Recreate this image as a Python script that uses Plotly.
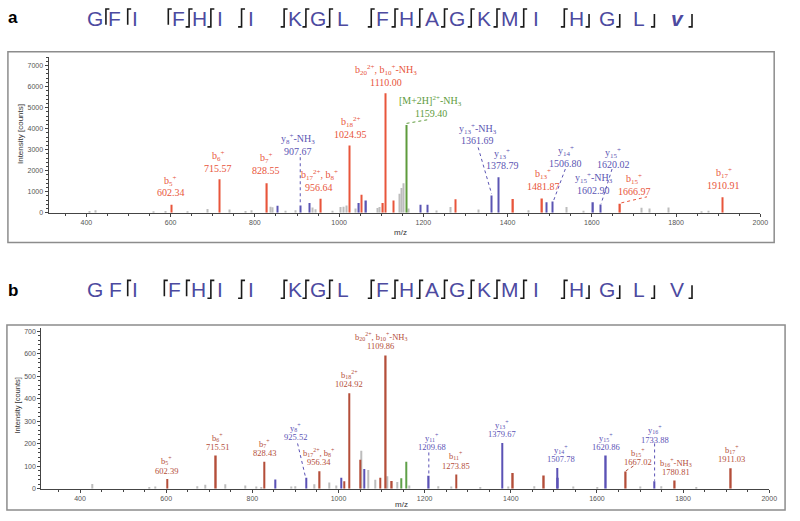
import plotly.graph_objects as go

W, H = 800, 521

# ---------------- DATA : panel a ----------------
a_red_mz = [602.34, 715.57, 828.55, 956.64, 1024.95, 1053, 1104, 1110.00, 1129, 1276, 1413, 1481.87, 1666.97, 1910.91]
a_red_int = [380, 1600, 1400, 670, 3200, 860, 470, 5680, 580, 640, 660, 680, 430, 740]
a_blue_mz = [854, 907.67, 929, 1047, 1064, 1193, 1210, 1361.69, 1378.79, 1493, 1506.80, 1602.90, 1620.02]
a_blue_int = [330, 345, 470, 470, 580, 380, 380, 820, 1690, 500, 540, 500, 390]
a_green_mz = [1159.40]
a_green_int = [4180]
a_gray_mz = [407, 422, 560, 587, 640, 687, 739, 778, 791, 837, 842, 872, 896, 937, 943, 985, 1003,
             1011, 1017, 1038, 1091, 1096, 1143, 1149, 1153, 1165, 1232, 1264, 1330, 1450, 1541,
             1580, 1719, 1736, 1783, 1860, 1877]
a_gray_int = [90, 120, 60, 80, 60, 180, 150, 90, 120, 290, 260, 100, 120, 250, 170, 100, 270,
              290, 340, 200, 230, 280, 900, 1180, 1400, 200, 110, 280, 150, 120, 270,
              100, 240, 200, 250, 60, 100]

a_lab_names = ["b<sub>5</sub><sup>+</sup>", "b<sub>6</sub><sup>+</sup>", "b<sub>7</sub><sup>+</sup>",
               "y<sub>8</sub><sup>+</sup>-NH<sub>3</sub>",
               "b<sub>17</sub><sup>2+</sup>, b<sub>8</sub><sup>+</sup>", "b<sub>18</sub><sup>2+</sup>",
               "b<sub>20</sub><sup>2+</sup>, b<sub>10</sub><sup>+</sup>-NH<sub>3</sub>",
               "[M+2H]<sup>2+</sup>-NH<sub>3</sub>", "y<sub>13</sub><sup>+</sup>-NH<sub>3</sub>",
               "y<sub>13</sub><sup>+</sup>", "b<sub>13</sub><sup>+</sup>", "y<sub>14</sub><sup>+</sup>",
               "y<sub>15</sub><sup>+</sup>-NH<sub>3</sub>", "y<sub>15</sub><sup>+</sup>",
               "b<sub>15</sub><sup>+</sup>", "b<sub>17</sub><sup>+</sup>"]
a_lab_values = ["602.34", "715.57", "828.55", "907.67", "956.64", "1024.95", "1110.00", "1159.40",
                "1361.69", "1378.79", "1481.87", "1506.80", "1602.90", "1620.02", "1666.97", "1910.91"]
a_lab_kind = ["r", "r", "r", "b", "r", "r", "r", "g", "b", "b", "r", "b", "b", "b", "r", "r"]

# ---------------- DATA : panel b ----------------
b_red_mz = [602.39, 715.51, 828.43, 956.34, 1013, 1024.92, 1051, 1097, 1109.86, 1124, 1273.85, 1405, 1477, 1667.02, 1780.81, 1911.03]
b_red_int = [44, 148, 121, 78, 34, 425, 130, 49, 593, 35, 64, 71, 59, 77, 37, 92]
b_blue_mz = [854, 925.52, 1007, 1060, 1209.68, 1379.67, 1507.78, 1509.5, 1620.86, 1733.88]
b_blue_int = [42, 49, 49, 88, 58, 204, 93, 50, 148, 34]
b_green_mz = [1146, 1157]
b_green_int = [47, 121]
b_gray_mz = [429, 560, 575, 672, 690, 738, 784, 809, 820, 890, 900, 945, 978, 995, 1052, 1069, 1085,
             1114, 1137, 1165, 1232, 1262, 1330, 1395, 1455, 1545, 1600, 1700, 1750, 1830]
b_gray_int = [22, 8, 10, 12, 18, 20, 15, 10, 8, 10, 12, 20, 28, 15, 170, 84, 40,
              56, 30, 15, 12, 10, 8, 10, 12, 10, 8, 10, 12, 8]

b_lab_names = ["b<sub>5</sub><sup>+</sup>", "b<sub>6</sub><sup>+</sup>", "b<sub>7</sub><sup>+</sup>",
               "y<sub>8</sub><sup>+</sup>", "b<sub>17</sub><sup>2+</sup>, b<sub>8</sub><sup>+</sup>",
               "b<sub>18</sub><sup>2+</sup>",
               "b<sub>20</sub><sup>2+</sup>, b<sub>10</sub><sup>+</sup>-NH<sub>3</sub>",
               "y<sub>11</sub><sup>+</sup>", "b<sub>11</sub><sup>+</sup>", "y<sub>13</sub><sup>+</sup>",
               "y<sub>14</sub><sup>+</sup>", "y<sub>15</sub><sup>+</sup>", "b<sub>15</sub><sup>+</sup>",
               "y<sub>16</sub><sup>+</sup>", "b<sub>16</sub><sup>+</sup>-NH<sub>3</sub>",
               "b<sub>17</sub><sup>+</sup>"]
b_lab_values = ["602.39", "715.51", "828.43", "925.52", "956.34", "1024.92", "1109.86", "1209.68",
                "1273.85", "1379.67", "1507.78", "1620.86", "1667.02", "1733.88", "1780.81", "1911.03"]
b_lab_kind = ["r", "r", "r", "b", "r", "r", "r", "b", "r", "b", "b", "b", "r", "b", "r", "r"]

# sequences and fragment markers (b = N-term cut, y = C-term cut, by = both, "" = none)
seq_a = list("GFIFHIIKGLFHAGKMIHGLV")
seq_b = list("GFIFHIIKGLFHAGKMIHGLV")
marks_a = ["b", "b", "b", "by", "by", "by", "by", "by", "by", "by", "by", "by", "by", "by", "by",
           "by", "by", "y", "y", "y", "y"]
marks_b = ["", "b", "b", "b", "by", "by", "by", "by", "by", "by", "by", "by", "by", "by", "by",
           "by", "by", "y", "y", "y", "y"]

# ---------------- LAYOUT (positions / styles) ----------------
a_lab_x = [600.4, 713, 826.7, 901.4, 952.6, 1027, 1111, 1217, 1329.6, 1386.8, 1485, 1537.6, 1604.3, 1651.4, 1700.8, 1913]
a_lab_y = [944, 2125, 1997, 2913, 1213, 3730, 6218, 4721, 3414, 2233, 1242, 2361, 1053, 2280, 1025, 1289]
b_lab_x = [601.6, 718.3, 828, 900.7, 954.6, 1025, 1098, 1218, 1272.8, 1379.3, 1516, 1621.9, 1696, 1734.6, 1783.6, 1913]
b_lab_y = [81.4, 184.5, 159, 228.8, 118, 464.6, 634.5, 184.5, 103.5, 243.4, 132.7, 184.5, 118, 218.6, 73.9, 132.7]

# leader lines: (x0, y0, x1, y1, kind)
a_leaders = [(907.67, 2640, 907.67, 360, "b"), (1160, 4250, 1212, 4430, "g"),
             (1330, 3110, 1362, 900, "b"), (1537, 2080, 1509, 570, "b"),
             (1648, 2080, 1622, 430, "b"), (1670, 470, 1731, 760, "r")]
b_leaders = [(905, 202, 923, 56, "b"), (1209.68, 162, 1209.68, 60, "b"),
             (1667, 80, 1690, 108, "r"), (1733.88, 202, 1733.88, 36, "b")]

res_x_a = [96, 116, 136, 180, 202, 222, 254, 298, 321, 346, 386, 411, 436, 462, 489, 515, 541,
           582, 613, 645, 684]
res_x_b = [96, 117, 136, 176, 200, 222, 254, 298, 321, 346, 386, 411, 436, 462, 489, 515, 541,
           582, 613, 645, 684]
mark_x_a = [107, 129, 170, 191, 213, 244, 287, 309, 333, 375, 399, 424, 449, 476, 502, 529, 570,
            595, 626, 661, 699]
mark_x_b = [107, 129, 166, 188.5, 213, 244, 287, 309, 333, 375, 399, 424, 449, 476, 502, 529, 570,
            595, 626, 661, 699]

COL_A = {"r": "#e8553b", "b": "#5b55b3", "g": "#5e9b3c", "k": "#bdbdbd"}
COL_B = {"r": "#b44e3a", "b": "#5b52b5", "g": "#5fa049", "k": "#bdbdbd"}
SEQ_COL = "#4d4aa0"


def px(x):
    return x / W


def py(y):
    return 1 - y / H


fig = go.Figure()


def add_bars(mz, inten, color, xa, ya, width):
    fig.add_trace(go.Bar(x=mz, y=inten, width=width, marker=dict(color=color, line=dict(width=0)),
                         xaxis=xa, yaxis=ya, showlegend=False, hoverinfo="x+y"))


add_bars(a_gray_mz, a_gray_int, COL_A["k"], "x", "y", 2.5)
add_bars(a_red_mz, a_red_int, COL_A["r"], "x", "y", 3.4)
add_bars(a_blue_mz, a_blue_int, COL_A["b"], "x", "y", 3.4)
add_bars(a_green_mz, a_green_int, COL_A["g"], "x", "y", 3.4)
add_bars(b_gray_mz, b_gray_int, COL_B["k"], "x2", "y2", 2.5)
add_bars(b_red_mz, b_red_int, COL_B["r"], "x2", "y2", 3.4)
add_bars(b_blue_mz, b_blue_int, COL_B["b"], "x2", "y2", 3.4)
add_bars(b_green_mz, b_green_int, COL_B["g"], "x2", "y2", 3.4)

annotations = []
shapes = []

LABEL_FONT = "Liberation Serif, Times New Roman, serif"


def add_labels(names, values, kinds, lx, ly, cols, xr, yr, size, gap):
    for n, v, k, x, y in zip(names, values, kinds, lx, ly):
        annotations.append(dict(x=x, y=y, xref=xr, yref=yr, text=v, showarrow=False,
                                font=dict(family=LABEL_FONT, size=size, color=cols[k]),
                                xanchor="center", yanchor="middle"))
        annotations.append(dict(x=x, y=y, xref=xr, yref=yr, text=n, showarrow=False, yshift=gap,
                                font=dict(family=LABEL_FONT, size=size, color=cols[k]),
                                xanchor="center", yanchor="middle"))


add_labels(a_lab_names, a_lab_values, a_lab_kind, a_lab_x, a_lab_y, COL_A, "x", "y", 10, 12.3)
add_labels(b_lab_names, b_lab_values, b_lab_kind, b_lab_x, b_lab_y, COL_B, "x2", "y2", 8.5, 9.8)

for x0, y0, x1, y1, k in a_leaders:
    shapes.append(dict(type="line", xref="x", yref="y", x0=x0, y0=y0, x1=x1, y1=y1,
                       line=dict(color=COL_A[k], width=1, dash="dot")))
for x0, y0, x1, y1, k in b_leaders:
    shapes.append(dict(type="line", xref="x2", yref="y2", x0=x0, y0=y0, x1=x1, y1=y1,
                       line=dict(color=COL_B[k], width=1, dash="dot")))

# sequence lines
SEQ_FONT = "Liberation Sans Narrow, Arial Narrow, Liberation Sans, Arial, sans-serif"


def add_sequence(seq, res_x, marks, mark_x, top, last_bold):
    for i, (r, x) in enumerate(zip(seq, res_x)):
        txt = r
        if last_bold and i == len(seq) - 1:
            txt = "<b><i>" + r.lower() + "</i></b>"
        annotations.append(dict(x=px(x), y=py(top + 8.5), xref="paper", yref="paper", text=txt,
                                showarrow=False, xanchor="center", yanchor="middle",
                                font=dict(family=SEQ_FONT, size=21, color=SEQ_COL)))
    for m, x in zip(marks, mark_x):
        if not m:
            continue
        if m == "b":
            path = f"M {px(x+3.5)},{py(top-1)} L {px(x)},{py(top-1)} L {px(x)},{py(top+15)}"
        elif m == "by":
            path = (f"M {px(x+3.5)},{py(top-1)} L {px(x)},{py(top-1)} L {px(x)},{py(top+17)} "
                    f"L {px(x-3.5)},{py(top+17)}")
        else:
            path = f"M {px(x)},{py(top+4)} L {px(x)},{py(top+17)} L {px(x-3.5)},{py(top+17)}"
        shapes.append(dict(type="path", xref="paper", yref="paper", path=path,
                           line=dict(color="#1a1a1a", width=1.6)))


add_sequence(seq_a, res_x_a, marks_a, mark_x_a, 10, True)
add_sequence(seq_b, res_x_b, marks_b, mark_x_b, 283, False)

# panel letters
annotations.append(dict(x=px(13), y=py(18), xref="paper", yref="paper", text="<b>a</b>", showarrow=False,
                        xanchor="center", yanchor="middle",
                        font=dict(family="Liberation Sans, Arial", size=17, color="black")))
annotations.append(dict(x=px(13), y=py(292), xref="paper", yref="paper", text="<b>b</b>", showarrow=False,
                        xanchor="center", yanchor="middle",
                        font=dict(family="Liberation Sans, Arial", size=17, color="black")))

# axis titles
AX_FONT = "Liberation Sans, Arial, sans-serif"
annotations.append(dict(x=px(20), y=py(135), xref="paper", yref="paper", text="Intensity [counts]",
                        xanchor="center", yanchor="middle",
                        showarrow=False, textangle=-90, font=dict(family=AX_FONT, size=8, color="#333")))
annotations.append(dict(x=px(18), y=py(408), xref="paper", yref="paper", text="Intensity [counts]",
                        xanchor="center", yanchor="middle",
                        showarrow=False, textangle=-90, font=dict(family=AX_FONT, size=7.5, color="#333")))
annotations.append(dict(x=px(405), y=py(234), xref="paper", yref="paper", text="m/z",
                        xanchor="center", yanchor="middle",
                        showarrow=False, font=dict(family=AX_FONT, size=8, color="#333")))
annotations.append(dict(x=px(406), y=py(507), xref="paper", yref="paper", text="m/z",
                        xanchor="center", yanchor="middle",
                        showarrow=False, font=dict(family=AX_FONT, size=8, color="#333")))

# outer frames
shapes.append(dict(type="rect", xref="paper", yref="paper", x0=px(8), x1=px(782), y0=py(244), y1=py(52),
                   line=dict(color="#8c8c8c", width=1.5)))
shapes.append(dict(type="rect", xref="paper", yref="paper", x0=px(7), x1=px(793), y0=py(513), y1=py(327),
                   line=dict(color="#8c8c8c", width=1.5)))


def xaxis_cfg(domain, anchor):
    return dict(domain=domain, anchor=anchor, range=[310, 2000], dtick=200, showline=True,
                linecolor="#444", linewidth=1, ticks="outside", ticklen=3, tickcolor="#444",
                tickfont=dict(family=AX_FONT, size=7, color="#555"), showgrid=False, zeroline=False,
                minor=dict(dtick=50, ticks="outside", ticklen=2, tickcolor="#444"), fixedrange=True)


def yaxis_cfg(domain, anchor, rng, dt, mdt):
    return dict(domain=domain, anchor=anchor, range=rng, dtick=dt, showline=True,
                linecolor="#444", linewidth=1, ticks="outside", ticklen=3, tickcolor="#444",
                tickfont=dict(family=AX_FONT, size=7, color="#555"), showgrid=False, zeroline=False,
                minor=dict(dtick=mdt, ticks="outside", ticklen=2, tickcolor="#444"), fixedrange=True)


fig.update_layout(
    width=W, height=H, margin=dict(l=0, r=0, t=0, b=0),
    paper_bgcolor="white", plot_bgcolor="white", barmode="overlay", showlegend=False,
    xaxis=xaxis_cfg([px(49), px(768)], "y"),
    yaxis=yaxis_cfg([py(214), py(57.5)], "x", [0, 7400], 1000, 200),
    xaxis2=xaxis_cfg([px(41.7), px(777)], "y2"),
    yaxis2=yaxis_cfg([py(491.7), py(330)], "x2", [0, 715], 100, 20),
    annotations=annotations, shapes=shapes,
)

fig.write_html("out.html", config={"displayModeBar": False},
               post_script="document.body.style.margin='0';document.body.style.overflow='hidden';")
